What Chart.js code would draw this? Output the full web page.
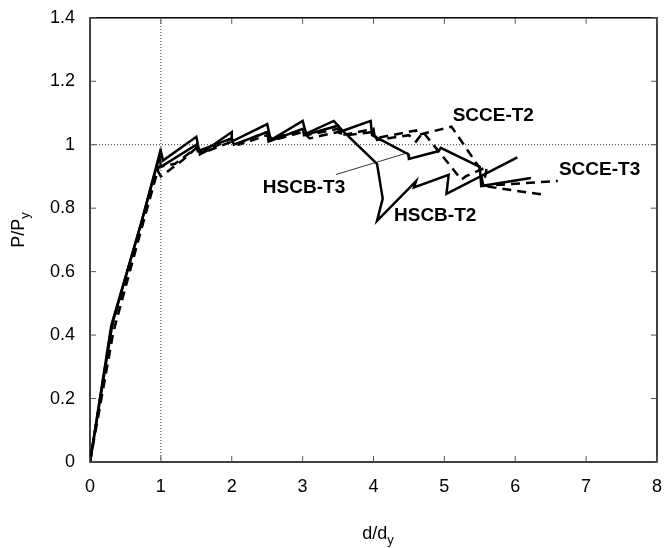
<!DOCTYPE html>
<html>
<head>
<meta charset="utf-8">
<script src="https://cdn.jsdelivr.net/npm/chart.js@4.4.0/dist/chart.umd.min.js"></script>
<style>
  body { margin: 0; background: #fff; }
  #wrap { width: 668px; height: 548px; }
</style>
</head>
<body>
<div id="wrap"><canvas id="pdcurve"></canvas></div>
<script>
// d/dy , P/Py pairs
const hscbT2 = [[0,0],[0.32,0.44],[0.73,0.76],[1.0,0.98],[1.03,0.95],[1.5,1.025],[1.55,0.97],[2.0,1.04],[2.0,1.01],
  [2.5,1.065],[2.55,1.015],[3.0,1.075],[3.05,1.035],[3.44,1.075],[3.56,1.045],[4.05,0.94],[4.13,0.83],[4.05,0.76],
  [4.6,0.885],[4.57,0.865],[5.06,0.905],[5.03,0.845],[6.03,0.96]];
const hscbT3 = [[0,0],[0.3,0.43],[0.72,0.75],[0.98,0.97],[1.0,0.93],[1.5,1.0],[1.52,0.98],[2.0,1.02],[2.03,1.0],
  [2.5,1.04],[2.52,1.01],[3.0,1.05],[3.02,1.03],[3.5,1.06],[3.52,1.04],[3.96,1.075],[3.98,1.03],[4.49,0.97],
  [4.5,0.955],[4.92,0.98],[4.95,0.99],[5.5,0.93],[5.52,0.87],[6.22,0.895]];
const scceT2 = [[0,0],[0.3,0.42],[0.7,0.72],[0.95,0.92],[1.0,0.9],[1.3,0.95],[1.5,0.99],[1.55,0.97],[2.0,1.02],
  [2.05,1.0],[2.5,1.04],[2.55,1.02],[3.0,1.045],[3.05,1.03],[3.5,1.05],[3.55,1.03],[4.0,1.05],[4.02,1.02],
  [4.6,1.045],[4.62,1.03],[5.1,1.057],[5.5,0.926],[5.55,0.87],[6.41,0.842]];
const scceT3 = [[0,0],[0.33,0.41],[0.72,0.73],[0.97,0.93],[1.2,0.94],[1.5,0.99],[1.6,0.975],[2.0,1.01],[2.1,1.0],
  [2.5,1.03],[2.6,1.015],[3.0,1.04],[3.1,1.02],[3.5,1.04],[3.6,1.03],[4.0,1.04],[4.05,1.015],[4.5,1.03],
  [4.6,1.01],[4.7,1.04],[5.24,0.89],[5.3,0.9],[5.6,0.93],[5.55,0.87],[6.6,0.886]];
const leaderT3 = [[3.47,0.906],[4.49,0.975]];
const yieldLineH = [[0,1],[8,1]];
const yieldLineV = [[1,0],[1,1.4]];
const curveLabels = [
  { text: "SCCE-T2", x: 5.69, y: 1.091 },
  { text: "SCCE-T3", x: 7.19, y: 0.92 },
  { text: "HSCB-T3", x: 3.02, y: 0.864 },
  { text: "HSCB-T2", x: 4.87, y: 0.776 },
];
const xTicks = [0,1,2,3,4,5,6,7,8];
const yTicks = [0,0.2,0.4,0.6,0.8,1,1.2,1.4];

const FONT = "Liberation Sans, Arial, sans-serif";

function pts(arr) { return arr.map(p => ({ x: p[0], y: p[1] })); }

function curve(arr, dashed) {
  return {
    data: pts(arr),
    showLine: true,
    borderColor: "#000",
    borderWidth: 2.5,
    borderDash: dashed ? [9, 6] : [],
    pointRadius: 0,
    tension: 0,
  };
}

function refLine(arr, width, dash) {
  return {
    data: pts(arr),
    showLine: true,
    borderColor: "#333",
    borderWidth: width,
    borderDash: dash,
    pointRadius: 0,
  };
}

const frame = {
  id: "frame",
  afterDatasetsDraw(chart) {
    const ctx = chart.ctx;
    const a = chart.chartArea;
    const xs = chart.scales.x, ys = chart.scales.y;
    ctx.save();
    ctx.strokeStyle = "#000";
    ctx.lineWidth = 1.5;
    ctx.strokeRect(a.left, a.top, a.right - a.left, a.bottom - a.top);
    ctx.lineWidth = 1;
    ctx.strokeStyle = "#555";
    ctx.beginPath();
    xTicks.forEach(v => {
      const px = xs.getPixelForValue(v);
      ctx.moveTo(px, a.bottom); ctx.lineTo(px, a.bottom - 6);
      ctx.moveTo(px, a.top); ctx.lineTo(px, a.top + 6);
    });
    yTicks.forEach(v => {
      const py = ys.getPixelForValue(v);
      ctx.moveTo(a.left, py); ctx.lineTo(a.left + 6, py);
      ctx.moveTo(a.right, py); ctx.lineTo(a.right - 6, py);
    });
    ctx.stroke();

    // curve names
    ctx.fillStyle = "#000";
    ctx.font = "bold 19px " + FONT;
    ctx.textAlign = "center";
    ctx.textBaseline = "middle";
    curveLabels.forEach(l => {
      ctx.fillText(l.text, xs.getPixelForValue(l.x), ys.getPixelForValue(l.y));
    });

    // axis titles with subscripts
    ctx.textAlign = "left";
    ctx.textBaseline = "alphabetic";
    const main = "18px " + FONT, sub = "13px " + FONT;
    ctx.font = main;
    let w1 = ctx.measureText("d/d").width;
    ctx.font = sub;
    let w2 = ctx.measureText("y").width;
    let x0 = 378 - (w1 + w2) / 2;
    ctx.font = main;
    ctx.fillText("d/d", x0, 539);
    ctx.font = sub;
    ctx.fillText("y", x0 + w1, 544);

    ctx.font = main;
    w1 = ctx.measureText("P/P").width;
    ctx.font = sub;
    w2 = ctx.measureText("y").width;
    ctx.translate(24, 230);
    ctx.rotate(-Math.PI / 2);
    x0 = -(w1 + w2) / 2;
    ctx.font = main;
    ctx.fillText("P/P", x0, 0);
    ctx.font = sub;
    ctx.fillText("y", x0 + w1, 5);
    ctx.restore();
  }
};

new Chart("pdcurve", {
  type: "scatter",
  data: {
    datasets: [
      refLine(yieldLineH, 1, [1, 2]),
      refLine(yieldLineV, 1, [1, 2]),
      curve(hscbT2, false),
      curve(hscbT3, false),
      curve(scceT2, true),
      curve(scceT3, true),
      refLine(leaderT3, 1, []),
    ],
  },
  options: {
    responsive: true,
    maintainAspectRatio: false,
    animation: false,
    layout: { padding: { top: 13, right: 9, left: 0, bottom: 0 } },
    plugins: { legend: { display: false }, tooltip: { enabled: false } },
    scales: {
      x: {
        min: 0, max: 8,
        grid: { display: false },
        border: { display: false },
        afterFit(s) { s.height = 86; },
        afterBuildTicks(s) { s.ticks = xTicks.map(v => ({ value: v })); },
        ticks: { color: "#000", font: { family: FONT, size: 18 }, padding: 6, maxRotation: 0 },
      },
      y: {
        min: 0, max: 1.4,
        grid: { display: false },
        border: { display: false },
        afterFit(s) { s.width = 90; },
        afterBuildTicks(s) { s.ticks = yTicks.map(v => ({ value: v })); },
        ticks: { color: "#000", font: { family: FONT, size: 18 }, padding: 7,
          callback: v => String(Math.round(v * 10) / 10) },
      },
    },
  },
  plugins: [frame],
});
</script>
</body>
</html>
